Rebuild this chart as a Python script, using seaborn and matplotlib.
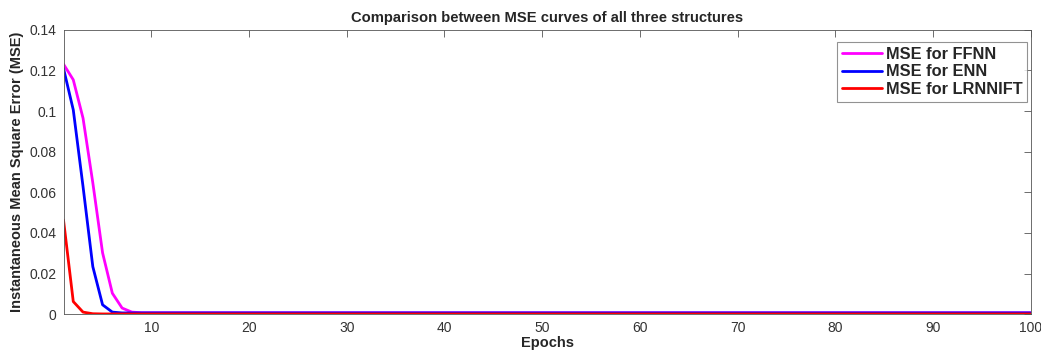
import numpy as np
import pandas as pd
import matplotlib
matplotlib.use("Agg")
import matplotlib.pyplot as plt
import seaborn as sns

# values (epochs 1..100)
epochs = list(range(1, 101))
# first epochs read point by point, the rest is flat near zero
mse_ffnn = [0.1231, 0.1154, 0.0965, 0.0647, 0.0302, 0.0103, 0.0030, 0.0010] + [0.0007] * 92
mse_enn = [0.1210, 0.1006, 0.0628, 0.0234, 0.0046, 0.0010] + [0.0006] * 94
mse_lrnnift = [0.0464, 0.0062, 0.0010, 0.0002] + [0.0001] * 96

series_names = ["MSE for FFNN", "MSE for ENN", "MSE for LRNNIFT"]
series_colors = ["#ff00ff", "#0000ff", "#ff0000"]

df = pd.DataFrame({
    "Epochs": epochs * 3,
    "MSE": mse_ffnn + mse_enn + mse_lrnnift,
    "Structure": [series_names[0]] * 100 + [series_names[1]] * 100 + [series_names[2]] * 100,
})

sns.set_style("white")
plt.rcParams["font.family"] = ["Liberation Sans", "DejaVu Sans"]

fig = plt.figure(figsize=(10.41, 3.51), dpi=100)
ax = fig.add_axes([0.061, 0.105, 0.929, 0.81])

sns.lineplot(data=df, x="Epochs", y="MSE", hue="Structure", hue_order=series_names,
             palette=series_colors, linewidth=2, ax=ax)

ax.set_xlim(1, 100)
ax.set_ylim(0, 0.14)
ax.set_xticks([10, 20, 30, 40, 50, 60, 70, 80, 90, 100])
ax.set_yticks([0, 0.02, 0.04, 0.06, 0.08, 0.1, 0.12, 0.14])
ax.set_yticklabels(["0", "0.02", "0.04", "0.06", "0.08", "0.1", "0.12", "0.14"])

ax.tick_params(direction="in", top=True, right=True, length=5, width=0.6,
               colors="#555555", labelcolor="#333333", labelsize=10, pad=5)
for s in ax.spines.values():
    s.set_color("#555555")
    s.set_linewidth(0.6)

ax.set_xlabel("Epochs", fontsize=10.5, fontweight="bold", labelpad=1)
ax.set_ylabel("Instantaneous Mean Square Error (MSE)", fontsize=10.5, fontweight="bold", labelpad=4)
ax.set_title("Comparison between MSE curves of all three structures", fontsize=10.6, fontweight="bold", pad=6)

leg = ax.legend(loc="upper right", bbox_to_anchor=(0.9965, 0.957), fontsize=11.8,
                frameon=True, fancybox=False, handlelength=2.45, handletextpad=0.2,
                borderpad=0.3, labelspacing=0.15, borderaxespad=0)
leg.get_frame().set_edgecolor("#777777")
leg.get_frame().set_linewidth(0.8)
for t in leg.get_texts():
    t.set_fontweight("bold")

fig.savefig("out.png", dpi=100)
